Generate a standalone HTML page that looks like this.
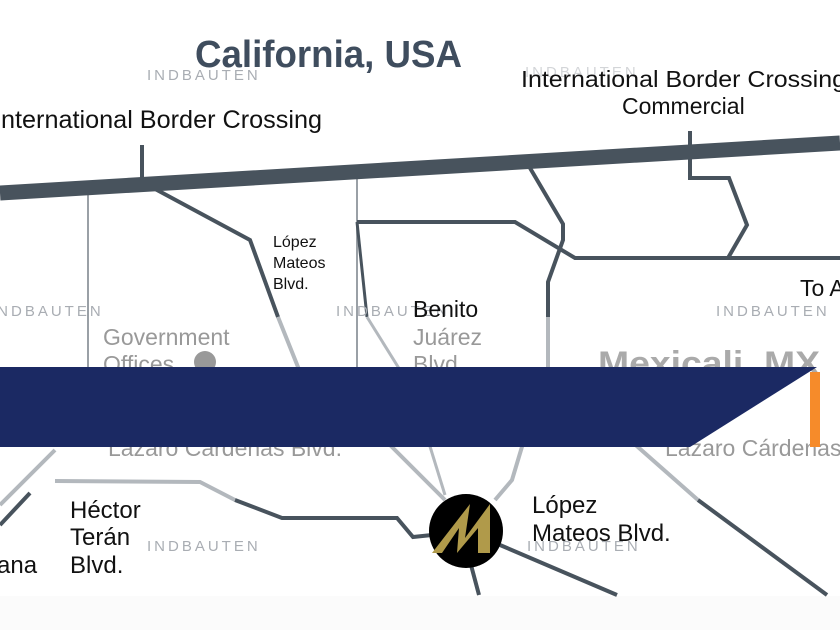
<!DOCTYPE html>
<html><head><meta charset="utf-8"><style>
html,body{margin:0;padding:0;background:#fff;}
svg{display:block;}
text{font-family:"Liberation Sans Narrow","Liberation Sans",sans-serif;}
.wm{font-family:"Liberation Sans",sans-serif;font-size:15px;fill:#a9adb3;letter-spacing:3px;}
</style></head><body>
<svg width="840" height="630" viewBox="0 0 840 630" xmlns="http://www.w3.org/2000/svg">
<rect width="840" height="630" fill="#fff"/>
<rect y="596" width="840" height="34" fill="#fbfbfb"/>
<g fill="none" stroke-linejoin="miter">
<line x1="88" y1="190" x2="88" y2="370" stroke="#9aa0a6" stroke-width="2"/>
<line x1="357" y1="178" x2="357" y2="370" stroke="#9aa0a6" stroke-width="2"/>
<polyline points="142,145 142,183" stroke="#48535d" stroke-width="4"/>
<polyline points="144,183 250,240 278,317" stroke="#48535d" stroke-width="4"/>
<polyline points="278,317 300,372" stroke="#b3b8bd" stroke-width="4"/>
<polyline points="357,222 515,222 575,258 840,258" stroke="#48535d" stroke-width="4"/>
<polyline points="530,168 563,224 563,240 548,282 548,317" stroke="#48535d" stroke-width="4"/>
<polyline points="548,317 548,370" stroke="#b3b8bd" stroke-width="4"/>
<polyline points="690,131 690,178 729,178 747,225 728,258" stroke="#48535d" stroke-width="4"/>
<polyline points="357,222 367,317" stroke="#48535d" stroke-width="3"/>
<polyline points="367,317 400,370" stroke="#b3b8bd" stroke-width="3"/>
<polyline points="385,440 445,500" stroke="#b3b8bd" stroke-width="4"/>
<polyline points="428,440 445,495" stroke="#b3b8bd" stroke-width="3"/>
<polyline points="524,440 512,480 495,500" stroke="#b3b8bd" stroke-width="4"/>
<polyline points="55,450 0,505" stroke="#b3b8bd" stroke-width="4"/>
<polyline points="30,493 0,525" stroke="#48535d" stroke-width="4"/>
<polyline points="55,481 200,482 235,500" stroke="#b3b8bd" stroke-width="4"/>
<polyline points="235,500 282,518 397,518 413,537 432,535" stroke="#48535d" stroke-width="4"/>
<polyline points="630,440 698,500" stroke="#b3b8bd" stroke-width="4"/>
<polyline points="698,500 827,595" stroke="#48535d" stroke-width="4"/>
<polyline points="500,545 617,595" stroke="#48535d" stroke-width="4"/>
<polyline points="471,565 479,595" stroke="#48535d" stroke-width="4"/>
<line x1="0" y1="193" x2="840" y2="143" stroke="#48535d" stroke-width="15"/>
</g>
<text class="wm" x="147" y="80">INDBAUTEN</text>
<text class="wm" x="525" y="77" opacity="0.5">INDBAUTEN</text>
<text class="wm" x="-10" y="316">INDBAUTEN</text>
<text class="wm" x="336" y="316">INDBAUTEN</text>
<text class="wm" x="716" y="316">INDBAUTEN</text>
<text class="wm" x="147" y="551">INDBAUTEN</text>
<text class="wm" x="527" y="551">INDBAUTEN</text>
<text x="195" y="67" font-size="38" font-weight="bold" fill="#3f4d5e" font-family="Liberation Sans" textLength="267" lengthAdjust="spacingAndGlyphs">California, USA</text>
<text x="-6" y="128" font-size="25" fill="#111" textLength="328" lengthAdjust="spacingAndGlyphs">International Border Crossing</text>
<text x="521" y="87" font-size="23" fill="#111" textLength="325" lengthAdjust="spacingAndGlyphs">International Border Crossing</text>
<text x="622" y="114" font-size="23" fill="#111">Commercial</text>
<text x="273" y="247" font-size="16" fill="#111">López</text>
<text x="273" y="268" font-size="16" fill="#111">Mateos</text>
<text x="273" y="289" font-size="16" fill="#111">Blvd.</text>
<text x="413" y="317" font-size="23" fill="#111">Benito</text>
<text x="413" y="345" font-size="23" fill="#999">Juárez</text>
<text x="413" y="372" font-size="23" fill="#999">Blvd.</text>
<text x="800" y="296" font-size="23" fill="#111">To A</text>
<text x="103" y="345" font-size="23" fill="#999">Government</text>
<text x="103" y="372" font-size="23" fill="#999">Offices</text>
<circle cx="205" cy="362" r="11" fill="#999"/>
<text x="598" y="375" font-size="34" font-weight="bold" fill="#aaa" font-family="Liberation Sans" textLength="222" lengthAdjust="spacingAndGlyphs">Mexicali, MX</text>
<text x="108" y="456" font-size="23" fill="#999">Lázaro Cárdenas Blvd.</text>
<text x="665" y="456" font-size="23" fill="#999">Lázaro Cárdenas</text>
<polygon points="0,367 817,367 690,447 0,447" fill="#1b2963"/>
<rect x="810" y="372" width="10" height="75" fill="#f68b2a"/>
<text x="70" y="518" font-size="24" fill="#111">Héctor</text>
<text x="70" y="545" font-size="24" fill="#111">Terán</text>
<text x="70" y="573" font-size="24" fill="#111">Blvd.</text>
<text x="-3" y="573" font-size="24" fill="#111">ana</text>
<text x="532" y="513" font-size="24" fill="#111">López</text>
<text x="532" y="541" font-size="24" fill="#111">Mateos Blvd.</text>
<ellipse cx="466" cy="531" rx="37" ry="37" fill="#000"/>
<polygon points="432,553 470,504 465,538 490,504 490,553 478,553 478,528 457,553 459,528 442,553" fill="#b09a4a"/>
</svg>
</body></html>
